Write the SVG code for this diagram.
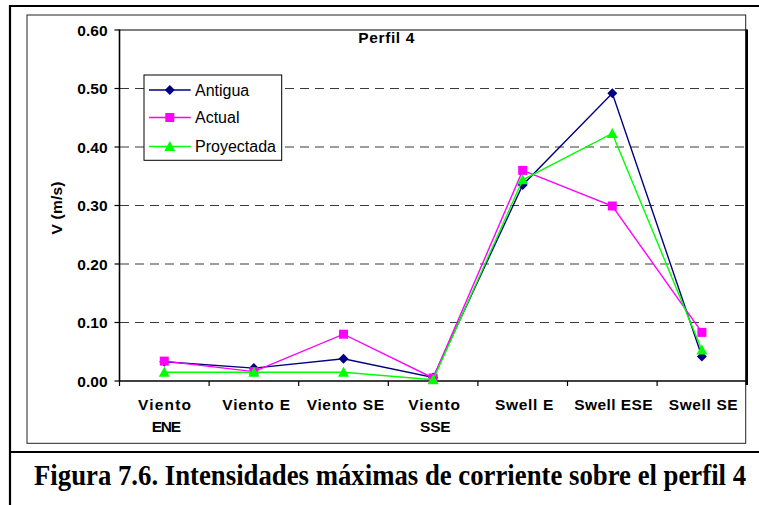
<svg xmlns="http://www.w3.org/2000/svg" width="759" height="505" viewBox="0 0 759 505">
<style>
.ax{font-family:"Liberation Sans",Arial,sans-serif;font-weight:bold;font-size:15.5px;fill:#000}
.xl{font-family:"Liberation Sans",Arial,sans-serif;font-weight:bold;font-size:15.5px;fill:#000}
.lg{font-family:"Liberation Sans",Arial,sans-serif;font-size:16px;fill:#000}
.cap{font-family:"Liberation Serif","Times New Roman",serif;font-weight:bold;font-size:29px;fill:#000}
.grid{stroke:#3a3a3a;stroke-width:1.2;stroke-dasharray:9,6;fill:none}
.tick{stroke:#000;stroke-width:1.2}
.s1{stroke:#000080;stroke-width:1.4;fill:none}
.s2{stroke:#FF00FF;stroke-width:1.4;fill:none}
.s3{stroke:#00FF00;stroke-width:1.4;fill:none}
</style>
<defs>
<path id="dia" d="M0,-5 L5,0 L0,5 L-5,0 Z" fill="#000080"/>
<rect id="sq" x="-4.5" y="-4.5" width="9" height="9" fill="#FF00FF"/>
<path id="tri" d="M0,-5.5 L5.5,4.5 L-5.5,4.5 Z" fill="#00FF00"/>
</defs>
<rect width="759" height="505" fill="#fff"/>
<g id="frame">
<line x1="9" y1="6" x2="759" y2="6" stroke="#000" stroke-width="2.2"/>
<line x1="10" y1="5" x2="10" y2="505" stroke="#000" stroke-width="2.2"/>
<line x1="9" y1="452" x2="759" y2="452" stroke="#000" stroke-width="2.2"/>
<rect x="27" y="15" width="718.7" height="428.3" fill="none" stroke="#222" stroke-width="1"/>
</g>
<g id="grid">
<line class="grid" x1="120" y1="88.5" x2="746" y2="88.5"/>
<line class="grid" x1="120" y1="147" x2="746" y2="147"/>
<line class="grid" x1="120" y1="205.5" x2="746" y2="205.5"/>
<line class="grid" x1="120" y1="264" x2="746" y2="264"/>
<line class="grid" x1="120" y1="322.5" x2="746" y2="322.5"/>
</g>
<g id="axes">
<line x1="119.5" y1="30" x2="747" y2="30" stroke="#000" stroke-width="1"/>
<line x1="746.8" y1="29.5" x2="746.8" y2="385" stroke="#000" stroke-width="2.4"/>
<line x1="119.5" y1="29.5" x2="119.5" y2="381.5" stroke="#000" stroke-width="1.6"/>
<line x1="119" y1="381" x2="747" y2="381" stroke="#000" stroke-width="1.6"/>
<line class="tick" x1="114.5" y1="30" x2="119.5" y2="30"/>
<line class="tick" x1="114.5" y1="88.5" x2="119.5" y2="88.5"/>
<line class="tick" x1="114.5" y1="147" x2="119.5" y2="147"/>
<line class="tick" x1="114.5" y1="205.5" x2="119.5" y2="205.5"/>
<line class="tick" x1="114.5" y1="264" x2="119.5" y2="264"/>
<line class="tick" x1="114.5" y1="322.5" x2="119.5" y2="322.5"/>
<line class="tick" x1="114.5" y1="381" x2="119.5" y2="381"/>
<line class="tick" x1="119.5" y1="381" x2="119.5" y2="386"/>
<line class="tick" x1="209.1" y1="381" x2="209.1" y2="386"/>
<line class="tick" x1="298.7" y1="381" x2="298.7" y2="386"/>
<line class="tick" x1="388.3" y1="381" x2="388.3" y2="386"/>
<line class="tick" x1="477.9" y1="381" x2="477.9" y2="386"/>
<line class="tick" x1="567.5" y1="381" x2="567.5" y2="386"/>
<line class="tick" x1="657.1" y1="381" x2="657.1" y2="386"/>
</g>
<g id="ylabels">
<text class="ax" x="107.5" y="35.5" text-anchor="end">0.60</text>
<text class="ax" x="107.5" y="94" text-anchor="end">0.50</text>
<text class="ax" x="107.5" y="152.5" text-anchor="end">0.40</text>
<text class="ax" x="107.5" y="211" text-anchor="end">0.30</text>
<text class="ax" x="107.5" y="269.5" text-anchor="end">0.20</text>
<text class="ax" x="107.5" y="328" text-anchor="end">0.10</text>
<text class="ax" x="107.5" y="386.5" text-anchor="end">0.00</text>
<text class="xl" transform="translate(62,208) rotate(-90)" text-anchor="middle" textLength="53">V (m/s)</text>
</g>
<g id="xlabels">
<text class="xl" x="138" y="410" textLength="53">Viento</text>
<text class="xl" x="151.7" y="431.5" textLength="29.3">ENE</text>
<text class="xl" x="222.3" y="410" textLength="67.7">Viento E</text>
<text class="xl" x="306.7" y="410" textLength="77.3">Viento SE</text>
<text class="xl" x="408.3" y="410" textLength="51.7">Viento</text>
<text class="xl" x="420" y="431.5" textLength="30.7">SSE</text>
<text class="xl" x="495" y="410" textLength="58.3">Swell E</text>
<text class="xl" x="574.3" y="410" textLength="78.4">Swell ESE</text>
<text class="xl" x="668.7" y="410" textLength="69">Swell SE</text>
</g>
<g id="title">
<text class="xl" x="358.3" y="43.3" textLength="56">Perfil 4</text>
</g>
<g id="series">
<g id="antigua">
<polyline class="s1" points="164.3,361.7 253.9,368.1 343.5,358.8 433.1,377.5 522.7,185 612.3,93.2 701.9,356.4"/>
<use href="#dia" x="164.3" y="361.7"/><use href="#dia" x="253.9" y="368.1"/><use href="#dia" x="343.5" y="358.8"/><use href="#dia" x="433.1" y="377.5"/><use href="#dia" x="522.7" y="185"/><use href="#dia" x="612.3" y="93.2"/><use href="#dia" x="701.9" y="356.4"/>
</g>
<g id="actual">
<polyline class="s2" points="164.3,361.1 253.9,371.6 343.5,334.2 433.1,378 522.7,170.4 612.3,206 701.9,332.4"/>
<use href="#sq" x="164.3" y="361.1"/><use href="#sq" x="253.9" y="371.6"/><use href="#sq" x="343.5" y="334.2"/><use href="#sq" x="433.1" y="378"/><use href="#sq" x="522.7" y="170.4"/><use href="#sq" x="612.3" y="206"/><use href="#sq" x="701.9" y="332.4"/>
</g>
<g id="proyectada">
<polyline class="s3" points="164.3,372.2 253.9,372.2 343.5,372.2 433.1,379.8 522.7,179.8 612.3,133.5 701.9,350"/>
<use href="#tri" x="164.3" y="372.2"/><use href="#tri" x="253.9" y="372.2"/><use href="#tri" x="343.5" y="372.2"/><use href="#tri" x="433.1" y="379.8"/><use href="#tri" x="522.7" y="179.8"/><use href="#tri" x="612.3" y="133.5"/><use href="#tri" x="701.9" y="350"/>
</g>
</g>
<g id="legend">
<rect x="144" y="75" width="137.7" height="85.3" fill="#fff" stroke="#000" stroke-width="1"/>
<line class="s1" x1="149" y1="90" x2="190.7" y2="90"/><use href="#dia" x="169.8" y="90"/>
<text class="lg" x="195" y="95.5">Antigua</text>
<line class="s2" x1="149" y1="117.5" x2="190.7" y2="117.5"/><use href="#sq" x="169.8" y="117.5"/>
<text class="lg" x="195" y="123">Actual</text>
<line class="s3" x1="149" y1="146.5" x2="190.7" y2="146.5"/><use href="#tri" x="169.8" y="146.5"/>
<text class="lg" x="195" y="152">Proyectada</text>
</g>
<g id="caption">
<text class="cap" transform="translate(34,485) scale(0.923,1)" x="0" y="0">Figura 7.6. Intensidades máximas de corriente sobre el perfil 4</text>
</g>
</svg>
